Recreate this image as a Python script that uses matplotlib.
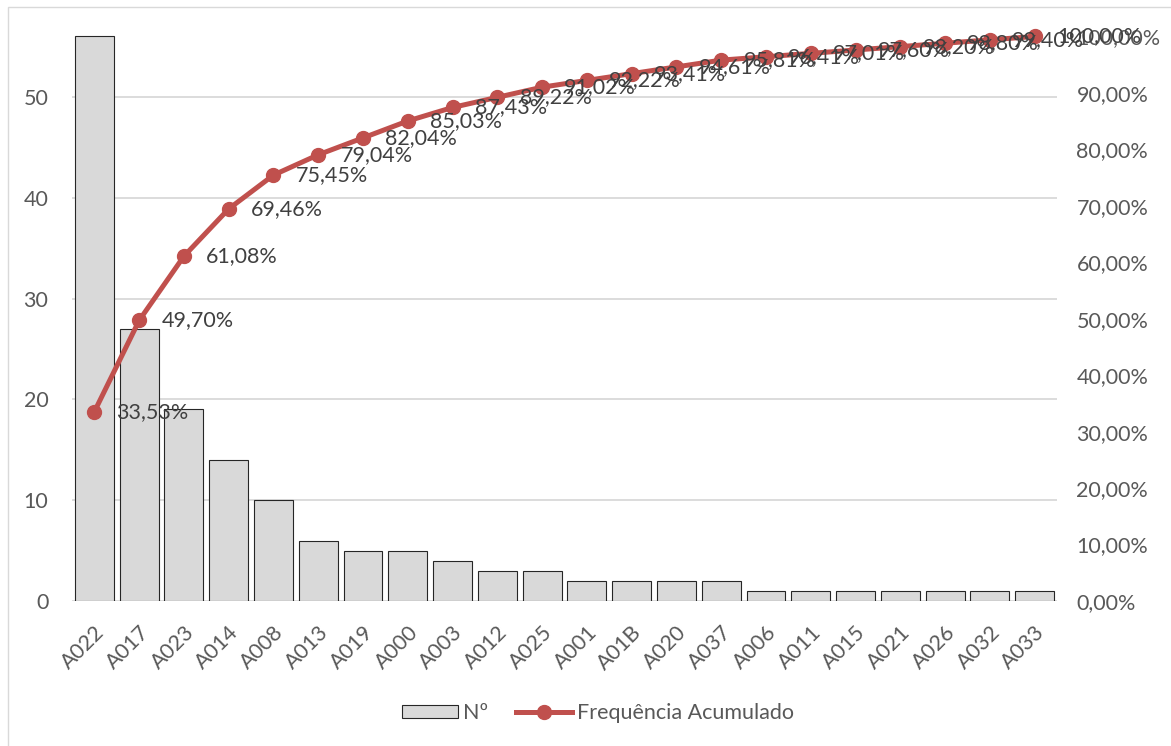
import numpy as np
import matplotlib
matplotlib.use("Agg")
import matplotlib.pyplot as plt
from matplotlib.patches import Patch, Rectangle
from matplotlib.lines import Line2D
from matplotlib.ticker import FixedLocator, FuncFormatter

plt.rcParams['font.family'] = ['Lato', 'DejaVu Sans']

# Pareto data: occurrences per code, sorted descending
codes = ["A022", "A017", "A023", "A014", "A008", "A013", "A019", "A000", "A003",
         "A012", "A025", "A001", "A01B", "A020", "A037", "A006", "A011", "A015",
         "A021", "A026", "A032", "A033"]
counts = [56, 27, 19, 14, 10, 6, 5, 5, 4, 3, 3, 2, 2, 2, 2, 1, 1, 1, 1, 1, 1, 1]
left_ticks = [0, 10, 20, 30, 40, 50]
right_ticks = [0.0, 0.1, 0.2, 0.3, 0.4, 0.5, 0.6, 0.7, 0.8, 0.9, 1.0]

counts_arr = np.array(counts, dtype=float)
cumulative = np.cumsum(counts_arr) / counts_arr.sum()

BAR = "#D9D9D9"
LINE = "#C0504D"
TXT = "#595959"
LBL = "#404040"
FS = 15.5

def pct(v):
    return f"{v * 100:.2f}".replace(".", ",") + "%"

W, H = 1171, 746
fig = plt.figure(figsize=(W / 100, H / 100), dpi=100)

# outer chart frame
fig.patches.append(Rectangle((8 / W, -0.1), 1.2, 1.1 - 7 / H,
                             transform=fig.transFigure, fill=False,
                             edgecolor="#D9D9D9", lw=1.0, zorder=0))

ax = fig.add_axes([72 / W, (H - 601) / H, (1057 - 72) / W, 601 / H])
x = np.arange(len(codes))

ax.bar(x, counts, width=0.87, color=BAR, edgecolor="#262626", linewidth=0.8, zorder=2)
ax.set_xlim(-0.5, len(codes) - 0.5)
ax.set_ylim(0, 59.62)
ax.yaxis.set_major_locator(FixedLocator(left_ticks))
ax.grid(axis="y", color="#D9D9D9", lw=1.3, zorder=0)
ax.set_axisbelow(True)
for s in ax.spines.values():
    s.set_visible(False)
ax.tick_params(axis="both", length=0, labelsize=FS, labelcolor=TXT)
ax.tick_params(axis="y", pad=17)
ax.set_xticks(x)
ax.set_xticklabels(codes, rotation=45, ha="right", va="top", rotation_mode="anchor")
ax.tick_params(axis="x", pad=15)

ax2 = ax.twinx()
ax2.set_ylim(0, 1.0646)
ax2.yaxis.set_major_locator(FixedLocator(right_ticks))
ax2.yaxis.set_major_formatter(FuncFormatter(lambda v, p: pct(v)))
for s in ax2.spines.values():
    s.set_visible(False)
ax2.tick_params(axis="y", length=0, labelsize=FS, labelcolor=TXT, pad=14)

ax2.plot(x, cumulative, color=LINE, lw=3.6, marker="o", markersize=10,
         markerfacecolor=LINE, markeredgecolor=LINE, zorder=3)
for xi, v in zip(x, cumulative):
    ax2.annotate(pct(v), (xi, v), xytext=(16, 0), textcoords="offset points",
                 ha="left", va="center", fontsize=FS, color=LBL, zorder=4)

handles = [Patch(facecolor=BAR, edgecolor="#262626", linewidth=0.8),
           Line2D([], [], color=LINE, lw=3.6, marker="o", markersize=10)]
fig.legend(handles, ["Nº", "Frequência Acumulado"], loc="center",
           bbox_to_anchor=(598 / W, 1 - 713 / H), ncol=2, frameon=False,
           fontsize=FS, labelcolor=TXT, handlelength=2.6, handleheight=0.6,
           handletextpad=0.25, columnspacing=1.3)

fig.savefig("out.png", dpi=100)
